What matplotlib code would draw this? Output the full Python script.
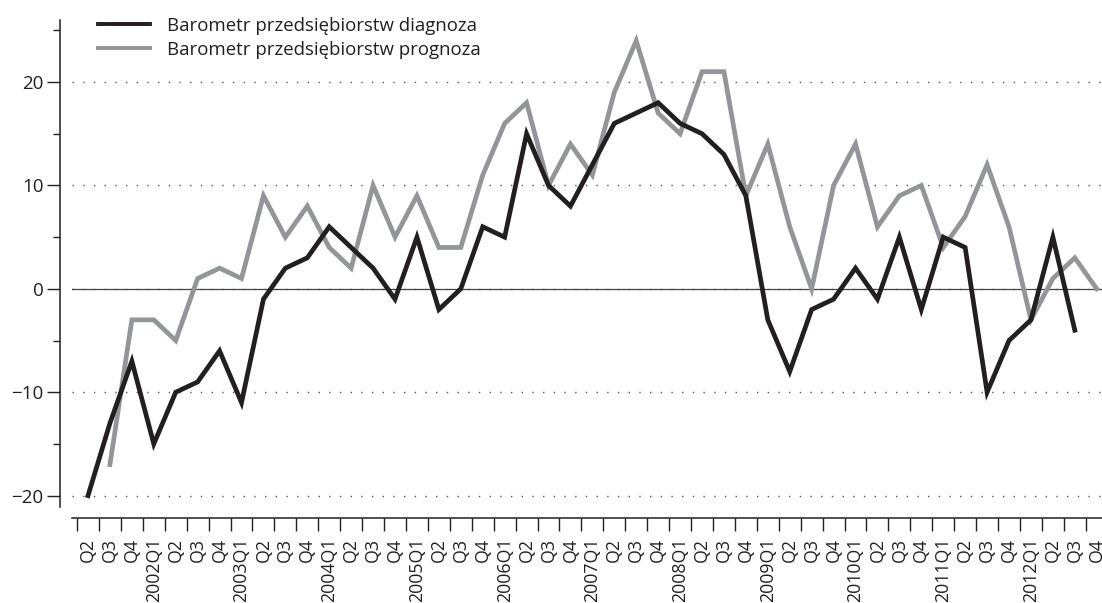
import numpy as np
import matplotlib
matplotlib.use("Agg")
import matplotlib.pyplot as plt
from matplotlib.ticker import FixedLocator, NullFormatter

plt.rcParams['font.family'] = ['Open Sans', 'DejaVu Sans']
plt.rcParams['axes.unicode_minus'] = True

# quarters 2001Q2 .. 2012Q4
labels = ["Q2", "Q3", "Q4"]
for year in range(2002, 2013):
    labels += [f"{year}Q1", "Q2", "Q3", "Q4"]

diagnoza = [-20, -13, -7, -15, -10, -9, -6, -11, -1, 2, 3, 6, 4, 2, -1, 5,
            -2, 0, 6, 5, 15, 10, 8, 12, 16, 17, 18, 16, 15, 13, 9, -3,
            -8, -2, -1, 2, -1, 5, -2, 5, 4, -10, -5, -3, 5, -4, np.nan]
prognoza = [np.nan, -17, -3, -3, -5, 1, 2, 1, 9, 5, 8, 4, 2, 10, 5, 9,
            4, 4, 11, 16, 18, 10, 14, 11, 19, 24, 17, 15, 21, 21, 9, 14,
            6, 0, 10, 14, 6, 9, 10, 4, 7, 12, 6, -3, 1, 3, 0]

name_diag = "Barometr przedsiębiorstw diagnoza"
name_prog = "Barometr przedsiębiorstw prognoza"

black = "#231f20"
grey = "#939598"

fig = plt.figure(figsize=(11.02, 6.03), dpi=100)
ax = fig.add_axes([72 / 1102, 96 / 603, 1030 / 1102, 487 / 603])

x = np.arange(len(labels))

# grid and zero line
for v in [-20, -10, 0, 10, 20]:
    ax.axhline(v, color="#555555", lw=1.0, ls=(0, (1, 6.7)), zorder=1)
ax.axhline(0, color="#444444", lw=0.9, zorder=1)

ax.plot(x, diagnoza, color=black, lw=3.4, label=name_diag, zorder=3,
        solid_joinstyle="miter")
ax.plot(x, prognoza, color=grey, lw=3.4, label=name_prog, zorder=2,
        solid_joinstyle="miter")

ax.set_xlim(-0.73, 46.24)
ax.set_ylim(-21.1, 26)

for s in ["top", "right"]:
    ax.spines[s].set_visible(False)
ax.spines["left"].set_position(("outward", 9))
ax.spines["bottom"].set_position(("outward", 8))
for s in ["left", "bottom"]:
    ax.spines[s].set_color(black)
    ax.spines[s].set_linewidth(1.1)

# y axis
ax.yaxis.set_major_locator(FixedLocator([-20, -10, 0, 10, 20]))
ax.yaxis.set_minor_locator(FixedLocator([-15, -5, 5, 15, 25]))
ax.tick_params(axis="y", which="major", length=9.5, width=1.0, color=black,
               labelsize=13.5, pad=2, labelcolor=black)
ax.tick_params(axis="y", which="minor", length=5, width=1.0, color=black)

# x axis: tick marks between quarters, labels at quarters
ax.xaxis.set_major_locator(FixedLocator(np.arange(-0.5, 46, 1.0)))
ax.xaxis.set_major_formatter(NullFormatter())
ax.set_xticks(x, labels, minor=True, rotation=90)
ax.tick_params(axis="x", which="major", length=9.5, width=1.0, color=black)
ax.tick_params(axis="x", which="minor", length=0, pad=14, labelsize=12.8,
               labelcolor=black)

leg = ax.legend(loc="upper left", bbox_to_anchor=(98 / 1102, 1 - 17 / 603),
                bbox_transform=fig.transFigure, frameon=False, fontsize=13.4,
                handlelength=2.77, handletextpad=0.96, labelspacing=0.32,
                borderaxespad=0, borderpad=0)
for t in leg.get_texts():
    t.set_color(black)
for h in leg.get_lines():
    h.set_linewidth(2.8)

fig.savefig("out.png", dpi=100)
